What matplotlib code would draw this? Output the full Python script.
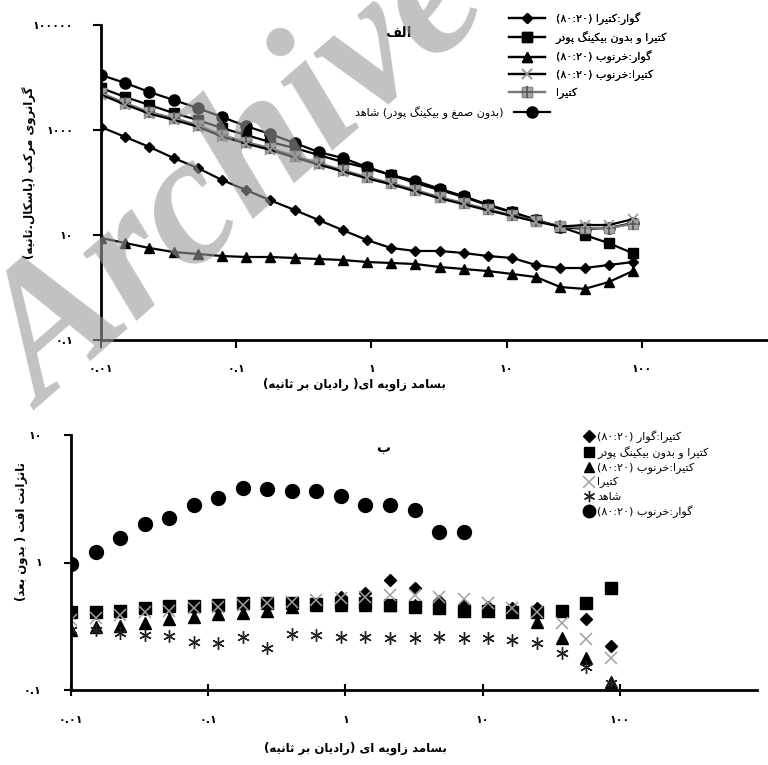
import re
import matplotlib
matplotlib.use('Agg')
import matplotlib.pyplot as plt

# --- Persian text helper (matplotlib 3.10 has no shaping / bidi) ---
FORMS = {
    '\u0627': (0xFE8D, 0xFE8E), '\u0622': (0xFE81, 0xFE82),
    '\u0628': (0xFE8F, 0xFE90, 0xFE91, 0xFE92), '\u067E': (0xFB56, 0xFB57, 0xFB58, 0xFB59),
    '\u062A': (0xFE95, 0xFE96, 0xFE97, 0xFE98), '\u062B': (0xFE99, 0xFE9A, 0xFE9B, 0xFE9C),
    '\u062C': (0xFE9D, 0xFE9E, 0xFE9F, 0xFEA0), '\u0686': (0xFB7A, 0xFB7B, 0xFB7C, 0xFB7D),
    '\u062D': (0xFEA1, 0xFEA2, 0xFEA3, 0xFEA4), '\u062E': (0xFEA5, 0xFEA6, 0xFEA7, 0xFEA8),
    '\u062F': (0xFEA9, 0xFEAA), '\u0630': (0xFEAB, 0xFEAC), '\u0631': (0xFEAD, 0xFEAE),
    '\u0632': (0xFEAF, 0xFEB0), '\u0698': (0xFB8A, 0xFB8B),
    '\u0633': (0xFEB1, 0xFEB2, 0xFEB3, 0xFEB4), '\u0634': (0xFEB5, 0xFEB6, 0xFEB7, 0xFEB8),
    '\u0635': (0xFEB9, 0xFEBA, 0xFEBB, 0xFEBC), '\u0636': (0xFEBD, 0xFEBE, 0xFEBF, 0xFEC0),
    '\u0637': (0xFEC1, 0xFEC2, 0xFEC3, 0xFEC4), '\u0638': (0xFEC5, 0xFEC6, 0xFEC7, 0xFEC8),
    '\u0639': (0xFEC9, 0xFECA, 0xFECB, 0xFECC), '\u063A': (0xFECD, 0xFECE, 0xFECF, 0xFED0),
    '\u0641': (0xFED1, 0xFED2, 0xFED3, 0xFED4), '\u0642': (0xFED5, 0xFED6, 0xFED7, 0xFED8),
    '\u06A9': (0xFB8E, 0xFB8F, 0xFB90, 0xFB91), '\u06AF': (0xFB92, 0xFB93, 0xFB94, 0xFB95),
    '\u0644': (0xFEDD, 0xFEDE, 0xFEDF, 0xFEE0), '\u0645': (0xFEE1, 0xFEE2, 0xFEE3, 0xFEE4),
    '\u0646': (0xFEE5, 0xFEE6, 0xFEE7, 0xFEE8), '\u0647': (0xFEE9, 0xFEEA, 0xFEEB, 0xFEEC),
    '\u0648': (0xFEED, 0xFEEE), '\u06CC': (0xFBFC, 0xFBFD, 0xFBFE, 0xFBFF),
}


def shape(s):
    out = []
    for i, ch in enumerate(s):
        f = FORMS.get(ch)
        if f is None:
            out.append(ch)
            continue
        prev = s[i - 1] if i > 0 else ''
        nxt = s[i + 1] if i + 1 < len(s) else ''
        jp = prev in FORMS and len(FORMS[prev]) == 4
        jn = len(f) == 4 and nxt in FORMS
        if jp and jn:
            c = f[3]
        elif jn:
            c = f[2]
        elif jp:
            c = f[1]
        else:
            c = f[0]
        out.append(chr(c))
    return ''.join(out)


def fa(s):
    s = shape(s)
    atoms = re.findall(r'[۰-۹0-9]+(?:[.:][۰-۹0-9]+)*|.', s)
    mirror = {'(': ')', ')': '('}
    return ''.join(mirror.get(a, a) for a in atoms[::-1])


# --- data ---
freq = [0.01, 0.0151, 0.0228, 0.0344, 0.0519, 0.0783, 0.118, 0.178, 0.270, 0.407,
        0.614, 0.927, 1.40, 2.11, 3.19, 4.81, 7.26, 11.0, 16.5, 25.0, 37.7, 56.9, 85.9]

# top panel: complex viscosity (Pa.s)
visc_guar_katira = [1140, 736, 475, 293, 189, 112, 72, 46, 30, 19.3, 12.4, 8.0, 5.65, 4.96,
                    4.96, 4.54, 3.98, 3.65, 2.68, 2.35, 2.35, 2.68, 3.06]
visc_katira_nobp = [6310, 4250, 2990, 2110, 1550, 1090, 803, 591, 454, 334, 246, 189, 139, 98,
                    72, 53, 37, 27, 19.3, 14.2, 10, 7.0, 4.5]
visc_guar_carob = [8.77, 7.04, 5.65, 4.74, 4.35, 3.98, 3.81, 3.81, 3.65, 3.49, 3.34, 3.06, 2.93,
                   2.8, 2.46, 2.25, 2.06, 1.81, 1.58, 1.02, 0.94, 1.27, 2.06]
visc_katira_carob = [4700, 3050, 2050, 1560, 1160, 750, 550, 420, 300, 220, 162, 120, 92, 68,
                     50, 38.5, 29.5, 23, 18, 14.5, 15.5, 15.5, 20]
visc_katira = [5070, 3270, 2200, 1690, 1250, 803, 591, 454, 320, 235, 173, 127, 98, 72, 53,
               40.7, 31, 24, 18.5, 14.8, 13.6, 13.6, 16.2]
visc_control = [11170, 7850, 5300, 3730, 2620, 1770, 1190, 840, 565, 381, 293, 197, 139, 108,
                76, 55, 38, 27.5, 19.5, 14.2, 13, 13.6, 16.9]

# bottom panel: tan delta
tan_katira_guar = [0.40, 0.40, 0.41, 0.43, 0.44, 0.44, 0.45, 0.46, 0.47, 0.47, 0.47, 0.54, 0.58,
                   0.73, 0.63, 0.50, 0.46, 0.45, 0.44, 0.44, 0.42, 0.36, 0.22]
tan_katira_nobp = [0.41, 0.41, 0.42, 0.44, 0.456, 0.456, 0.465, 0.48, 0.48, 0.48, 0.475, 0.48,
                   0.48, 0.465, 0.45, 0.44, 0.42, 0.42, 0.41, 0.41, 0.42, 0.48, 0.63]
tan_katira_carob = [0.296, 0.31, 0.318, 0.335, 0.36, 0.374, 0.394, 0.40, 0.42, 0.448, 0.46, 0.46,
                    0.46, 0.46, 0.46, 0.45, 0.44, 0.43, 0.42, 0.34, 0.256, 0.178, 0.116]
tan_katira = [0.354, 0.37, 0.39, 0.41, 0.42, 0.44, 0.448, 0.465, 0.48, 0.49, 0.508, 0.525, 0.536,
              0.556, 0.556, 0.536, 0.517, 0.48, 0.44, 0.41, 0.335, 0.251, 0.178]
tan_control = [0.296, 0.296, 0.28, 0.27, 0.265, 0.238, 0.233, 0.26, 0.213, 0.275, 0.27, 0.26,
               0.26, 0.255, 0.255, 0.26, 0.255, 0.255, 0.246, 0.233, 0.195, 0.151, 0.113]
tan_guar_carob = [0.98, 1.21, 1.56, 2.0, 2.23, 2.82, 3.2, 3.84, 3.76, 3.64, 3.64, 3.32, 2.82,
                  2.82, 2.58, 1.73, 1.73]

x_ticks = [0.01, 0.1, 1, 10, 100]
x_ticklabels = ['۰.۰۱', '۰.۱', '۱', '۱۰', '۱۰۰']
top_yticks = [0.1, 10, 1000, 100000]
top_yticklabels = ['۰.۱', '۱۰', '۱۰۰۰', '۱۰۰۰۰۰']
bot_yticks = [0.1, 1, 10]
bot_yticklabels = ['۰.۱', '۱', '۱۰']

lbl_top = ['گوار:کتیرا (۸۰:۲۰)', 'کتیرا و بدون بیکینگ پودر', 'گوار:خرنوب (۸۰:۲۰)',
           'کتیرا:خرنوب (۸۰:۲۰)', 'کتیرا', '(بدون صمغ و بیکینگ پودر) شاهد']
lbl_bot = ['کتیرا:گوار (۸۰:۲۰)', 'کتیرا و بدون بیکینگ پودر', 'کتیرا:خرنوب (۸۰:۲۰)',
           'کتیرا', 'شاهد', 'گوار:خرنوب (۸۰:۲۰)']

plt.rcParams['font.family'] = ['DejaVu Sans']
W, H = 768, 765
fig = plt.figure(figsize=(W / 100, H / 100), dpi=100)

ax1 = fig.add_axes([101 / W, 1 - 340 / H, 676 / W, 315 / H])
ax2 = fig.add_axes([71 / W, 1 - 690 / H, 686 / W, 255 / H])

# --- top panel ---
lw = 1.6
h_ctrl, = ax1.plot(freq, visc_control, '-o', color='black', lw=lw, ms=8)
h_sq, = ax1.plot(freq, visc_katira_nobp, '-s', color='black', lw=lw, ms=7)
h_kt, = ax1.plot(freq, visc_katira, '-s', color='#7a7a7a', lw=lw, ms=7,
                 mfc='#a8a8a8', mec='#8a8a8a')
h_kt2, = ax1.plot(freq, visc_katira, '+', color='#555555', ms=8, mew=1.2)
h_x, = ax1.plot(freq, visc_katira_carob, '-x', color='black', lw=lw, ms=7,
                mec='#9a9a9a', mew=1.2)
h_di, = ax1.plot(freq, visc_guar_katira, '-D', color='black', lw=lw, ms=5.5)
h_tr, = ax1.plot(freq, visc_guar_carob, '-^', color='black', lw=lw, ms=7)

# --- bottom panel ---
b_tr, = ax2.plot(freq, tan_katira_carob, '^', color='black', ms=8, ls='none')
b_di, = ax2.plot(freq, tan_katira_guar, 'D', color='black', ms=6.5, ls='none')
b_sq, = ax2.plot(freq, tan_katira_nobp, 's', color='black', ms=8.5, ls='none')
b_x, = ax2.plot(freq, tan_katira, 'x', color='#a0a0a0', ms=9, mew=1.1, ls='none')
b_as, = ax2.plot(freq, tan_control, marker=(6, 2, 0), color='#222222', ms=9, mew=1.0, ls='none')
b_ci, = ax2.plot(freq[:len(tan_guar_carob)], tan_guar_carob, 'o', color='black', ms=10, ls='none')

for ax, yt, ytl, ylim in [(ax1, top_yticks, top_yticklabels, (0.1, 1e5)),
                          (ax2, bot_yticks, bot_yticklabels, (0.1, 10))]:
    ax.set_xscale('log')
    ax.set_yscale('log')
    ax.set_xlim(0.01, 1000)
    ax.set_ylim(*ylim)
    ax.minorticks_off()
    ax.set_xticks(x_ticks)
    ax.set_xticklabels(x_ticklabels, fontsize=8, fontweight='bold')
    ax.set_yticks(yt)
    ax.set_yticklabels(ytl, fontsize=8, fontweight='bold')
    for s in ['top', 'right']:
        ax.spines[s].set_visible(False)
    for s in ['left', 'bottom']:
        ax.spines[s].set_linewidth(2)
    ax.patch.set_alpha(0)

ax1.tick_params(axis='x', direction='out', length=6, width=1.5, pad=11)
ax1.tick_params(axis='y', direction='out', length=6, width=1.5, pad=14)
ax2.tick_params(axis='x', direction='inout', length=8, width=1.5, pad=14)
ax2.tick_params(axis='y', direction='out', length=5, width=1.5, pad=16)

ax1.set_xlabel(fa('بسامد زاویه ای( رادیان بر ثانیه)'), fontsize=8.5, fontweight='bold', labelpad=3)
ax1.xaxis.label.set_position((0.375, 0))
ax1.set_ylabel(fa('گرانروی مرکب (پاسکال.ثانیه)'), fontsize=8.5, fontweight='bold')
ax1.yaxis.set_label_coords(-0.095, 0.53)

ax2.set_xlabel(fa('بسامد زاویه ای (رادیان بر ثانیه)'), fontsize=8.5, fontweight='bold', labelpad=12)
ax2.xaxis.label.set_position((0.415, 0))
ax2.set_ylabel(fa('تانژانت افت ( بدون بعد)'), fontsize=8.5, fontweight='bold')
ax2.yaxis.set_label_coords(-0.062, 0.62)

fig.text(398 / W, 1 - 33 / H, fa('الف'), fontsize=10, fontweight='bold', ha='center', va='center')
fig.text(383 / W, 1 - 448 / H, fa('ب'), fontsize=10, fontweight='bold', ha='center', va='center')

# top legends
leg_kw = dict(frameon=False, fontsize=8, borderpad=0, borderaxespad=0,
              handlelength=3.2, handletextpad=1.0, labelspacing=0.58)
lg1 = fig.legend([h_di, h_sq, h_tr, h_x, (h_kt, h_kt2)], [fa(t) for t in lbl_top[:5]],
                 loc='upper left', bbox_to_anchor=(509 / W, 1 - 12 / H), **leg_kw)
lg2 = fig.legend([h_ctrl], [fa(lbl_top[5])], loc='upper right', markerfirst=False,
                 bbox_to_anchor=(550 / W, 1 - 106 / H), **leg_kw)
fig.add_artist(lg1)

# bottom legend
fig.legend([b_di, b_sq, b_tr, b_x, b_as, b_ci], [fa(t) for t in lbl_bot],
           loc='upper left', bbox_to_anchor=(584 / W, 1 - 430 / H), frameon=False,
           fontsize=8, borderpad=0, borderaxespad=0, handlelength=0.9,
           handletextpad=0.3, labelspacing=0.3, markerscale=0.9)

# watermark
fig.text(240 / W, 1 - 180 / H, 'Archive', family='Liberation Serif', fontstyle='italic',
         fontweight='bold', fontsize=134, color='0.6', alpha=0.6, rotation=41,
         rotation_mode='anchor', ha='center', va='center', zorder=10)

fig.savefig('out.png', dpi=100)
